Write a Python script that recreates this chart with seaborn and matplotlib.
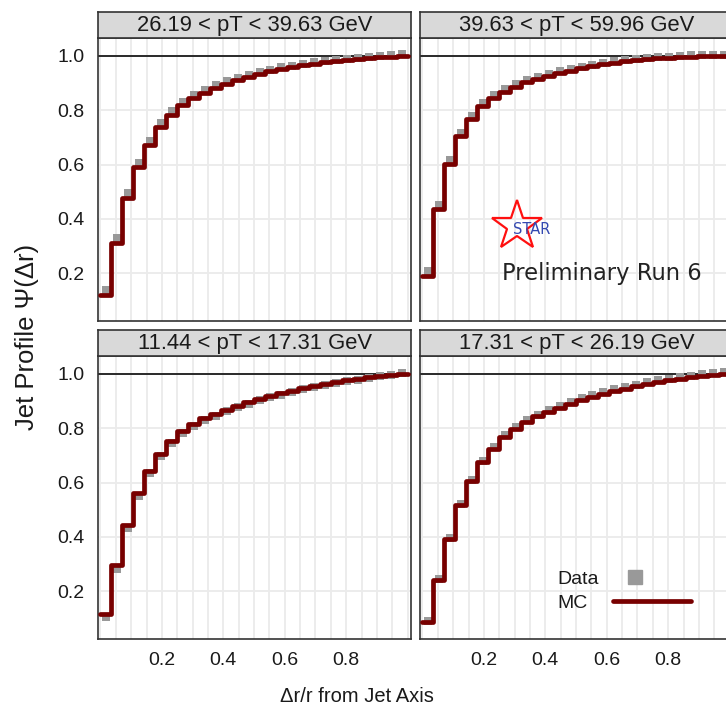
import numpy as np
import pandas as pd
import matplotlib
matplotlib.use("Agg")
import matplotlib.pyplot as plt
import seaborn as sns
from matplotlib.lines import Line2D
from matplotlib.legend_handler import HandlerLine2D

sns.set_theme(style="white")
plt.rcParams["font.family"] = ["Liberation Sans", "DejaVu Sans"]

# ---------------- data ----------------
N_BINS = 28  # delta r bins of 0.025 with r = 0.7

panel_titles = [
    "26.19 < pT < 39.63 GeV",
    "39.63 < pT < 59.96 GeV",
    "11.44 < pT < 17.31 GeV",
    "17.31 < pT < 26.19 GeV",
]

mc_26_39 = [0.120, 0.312, 0.477, 0.591, 0.673, 0.738, 0.783, 0.818, 0.843, 0.864,
            0.882, 0.897, 0.910, 0.922, 0.933, 0.942, 0.950, 0.957, 0.964, 0.970,
            0.975, 0.980, 0.984, 0.988, 0.991, 0.994, 0.997, 1.000]
data_26_39 = [0.138, 0.330, 0.494, 0.607, 0.688, 0.752, 0.796, 0.830, 0.855, 0.875,
              0.892, 0.906, 0.919, 0.930, 0.940, 0.949, 0.957, 0.963, 0.970, 0.976,
              0.981, 0.985, 0.989, 0.993, 0.996, 0.999, 1.002, 1.005]

mc_39_60 = [0.192, 0.437, 0.603, 0.704, 0.766, 0.815, 0.843, 0.868, 0.886, 0.902,
            0.914, 0.925, 0.935, 0.945, 0.953, 0.961, 0.968, 0.974, 0.979, 0.983,
            0.987, 0.990, 0.993, 0.995, 0.997, 0.998, 0.999, 1.000]
data_39_60 = [0.208, 0.452, 0.617, 0.717, 0.779, 0.827, 0.855, 0.879, 0.897, 0.912,
              0.923, 0.934, 0.943, 0.952, 0.960, 0.967, 0.974, 0.979, 0.984, 0.988,
              0.992, 0.995, 0.997, 0.999, 1.001, 1.002, 1.003, 1.004]

mc_11_17 = [0.117, 0.298, 0.445, 0.562, 0.644, 0.705, 0.754, 0.789, 0.816, 0.836,
            0.853, 0.868, 0.883, 0.896, 0.908, 0.919, 0.929, 0.938, 0.947, 0.955,
            0.962, 0.969, 0.975, 0.981, 0.986, 0.991, 0.996, 1.000]
data_11_17 = [0.105, 0.284, 0.433, 0.551, 0.634, 0.696, 0.746, 0.781, 0.808, 0.829,
              0.846, 0.862, 0.877, 0.890, 0.902, 0.913, 0.923, 0.933, 0.942, 0.950,
              0.958, 0.965, 0.972, 0.978, 0.984, 0.990, 0.996, 1.002]

mc_17_26 = [0.086, 0.242, 0.393, 0.516, 0.607, 0.675, 0.724, 0.769, 0.797, 0.822,
            0.843, 0.859, 0.875, 0.889, 0.902, 0.914, 0.925, 0.935, 0.944, 0.953,
            0.961, 0.968, 0.975, 0.981, 0.987, 0.992, 0.996, 1.000]
data_17_26 = [0.092, 0.246, 0.396, 0.520, 0.611, 0.680, 0.730, 0.775, 0.803, 0.828,
              0.849, 0.866, 0.882, 0.896, 0.909, 0.921, 0.932, 0.942, 0.951, 0.960,
              0.968, 0.975, 0.982, 0.988, 0.993, 0.998, 1.002, 1.006]

mc_series = [mc_26_39, mc_39_60, mc_11_17, mc_17_26]
data_series = [data_26_39, data_39_60, data_11_17, data_17_26]

x_ticks = [0.2, 0.4, 0.6, 0.8]
y_ticks = [0.2, 0.4, 0.6, 0.8, 1.0]
legend_labels = ["Data", "MC"]

# ---------------- style ----------------
W, H = 726, 714
DATA_COLOR = "#999999"
MC_COLOR = "#780000"
BORDER = "#333333"
GRID = "#EBEBEB"
TXT = "#1a1a1a"

fig = plt.figure(figsize=(W / 100, H / 100), dpi=100)


def rect(left, top, width, height):
    return [left / W, 1 - (top + height) / H, width / W, height / H]


PW, PH, SH = 313, 283, 26
panel_pos = [(98, 38), (420, 38), (98, 356), (420, 356)]

edges = np.linspace(0, 1, N_BINS + 1)
centers = 0.5 * (edges[:-1] + edges[1:])

axes = []
for i, (title, (left, top)) in enumerate(zip(panel_titles, panel_pos)):
    ax = fig.add_axes(rect(left, top, PW, PH))
    axes.append(ax)
    ax.set_facecolor("white")
    ax.set_xlim(-0.008, 1.011)
    ax.set_ylim(0.025, 1.065)

    ax.set_xticks(x_ticks)
    ax.set_xticks(np.round(np.arange(0, 1.0001, 0.05), 2), minor=True)
    ax.set_yticks(y_ticks)
    ax.grid(True, which="both", axis="x", color=GRID, lw=1.3, zorder=0)
    ax.grid(True, which="major", axis="y", color=GRID, lw=1.3, zorder=0)
    ax.set_axisbelow(True)
    ax.axhline(1.0, color=TXT, lw=1.3, zorder=1)

    df_data = pd.DataFrame({"x": centers, "y": data_series[i]})
    df_mc = pd.DataFrame({"x": edges, "y": list(mc_series[i]) + [mc_series[i][-1]]})
    sns.scatterplot(data=df_data, x="x", y="y", ax=ax, marker="s", s=38,
                    color=DATA_COLOR, linewidth=0, zorder=2, legend=False)
    sns.lineplot(data=df_mc, x="x", y="y", ax=ax, drawstyle="steps-post",
                 color=MC_COLOR, lw=3.4, estimator=None, zorder=3, legend=False)
    ax.set_xlabel("")
    ax.set_ylabel("")

    for s in ax.spines.values():
        s.set_color(BORDER)
        s.set_linewidth(1.2)
    ax.tick_params(axis="both", which="major", length=3.5, width=1, color=BORDER,
                   labelsize=14, labelcolor=TXT, pad=6)
    ax.tick_params(axis="both", which="minor", length=0)
    if i in (0, 1):
        ax.tick_params(axis="x", which="major", length=0, labelbottom=False)
    if i in (1, 3):
        ax.tick_params(axis="y", which="major", length=0, labelleft=False)

    # strip
    sax = fig.add_axes(rect(left, top - SH, PW, SH))
    sax.set_facecolor("#D9D9D9")
    sax.set_xticks([])
    sax.set_yticks([])
    for s in sax.spines.values():
        s.set_color(BORDER)
        s.set_linewidth(1.2)
    sax.text(0.5, 0.47, title, ha="center", va="center", fontsize=15.8,
             color=TXT, transform=sax.transAxes)

# STAR logo and preliminary label in top-right panel
ax_tr = axes[1]
ax_tr.plot([0.31], [0.335], marker="*", markersize=38, markerfacecolor="none",
           markeredgecolor="#FF1010", markeredgewidth=1.6,
           transform=ax_tr.transAxes, zorder=5, clip_on=False)
ax_tr.text(0.357, 0.322, "STAR", fontsize=10.5, color="#3348B0",
           family=["DejaVu Sans"], ha="center", va="center",
           transform=ax_tr.transAxes, zorder=6)
ax_tr.text(0.262, 0.167, "Preliminary Run 6", fontsize=16.3, color="#222222",
           family=["DejaVu Sans"], ha="left", va="center",
           transform=ax_tr.transAxes, zorder=6)


# legend in bottom-right panel (labels left, keys right)
class LeftMarkerHandler(HandlerLine2D):
    def get_xdata(self, legend, xdescent, ydescent, width, height, fontsize):
        x0 = -xdescent
        return np.array([x0, x0 + 0.56 * width]), np.array([x0 + 0.28 * width])


h_data = Line2D([], [], marker="s", color=DATA_COLOR, linestyle="none", markersize=10)
h_mc = Line2D([], [], color=MC_COLOR, lw=3.4)
leg = axes[3].legend([h_data, h_mc], legend_labels, loc="upper left",
                     bbox_to_anchor=(0.438, 0.243), frameon=False, markerfirst=False,
                     fontsize=14, handlelength=4.0, handletextpad=0.75,
                     labelspacing=0.33, borderpad=0, borderaxespad=0,
                     labelcolor=TXT, handler_map={h_data: LeftMarkerHandler()})
fig.canvas.draw()
renderer = fig.canvas.get_renderer()
widths = [t.get_window_extent(renderer).width for t in leg.get_texts()]
column = leg._legend_handle_box.get_children()[0]
column.align = "left"
base_sep = leg.handletextpad * leg._fontsize
for row, w in zip(column.get_children(), widths):
    row.sep = base_sep + (max(widths) - w) * 72.0 / fig.dpi

fig.text(27 / W, 1 - 337 / H, "Jet Profile \u03a8(\u0394r)", rotation=90,
         ha="center", va="center", fontsize=18.5, color=TXT)
fig.text(357 / W, 1 - 697 / H, "\u0394r/r from Jet Axis", ha="center", va="center",
         fontsize=14.5, color=TXT)

fig.savefig("out.png", dpi=100, facecolor="white")
